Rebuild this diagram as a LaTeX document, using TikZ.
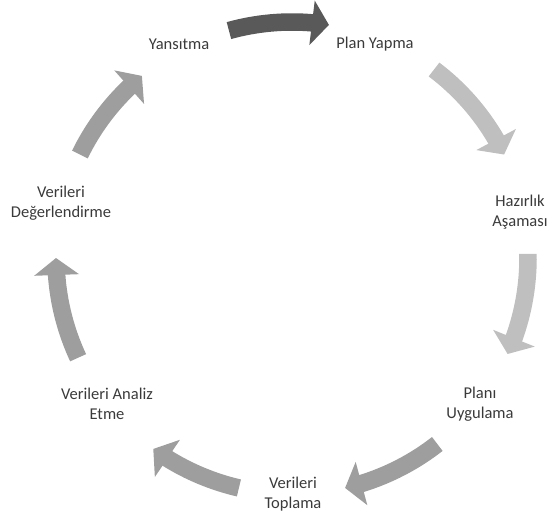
\documentclass[tikz,border=0pt]{standalone}
\usepackage{fontspec}
\setmainfont{Carlito}
\usetikzlibrary{arrows.meta,bending}

\definecolor{koyu}{RGB}{89,89,89}
\definecolor{acik}{RGB}{191,191,191}
\definecolor{orta}{RGB}{158,158,158}
\definecolor{yazi}{RGB}{58,58,58}

\begin{document}
\begin{tikzpicture}[x=1pt, y=1pt,
	etiket/.style={align=center, text=yazi, inner sep=0pt, font=\fontsize{16.5}{19.5}\selectfont},
	ok/.style={line width=17.5pt, -{Triangle[width=44pt,length=17pt,flex]}}]
	\clip (0,0) rectangle (552,517);
	\coordinate (m) at (292,259);

	\node[etiket] (yansitma) at (179,473) {Yansıtma};
	\node[etiket] (plan) at (375,473) {Plan Yapma};
	\node[etiket] (hazirlik) at (520,305) {Hazırlık\\Aşaması};
	\node[etiket] (uygulama) at (480,113) {Planı\\Uygulama};
	\node[etiket] (toplama) at (293,23) {Verileri\\Toplama};
	\node[etiket] (analiz) at (107,113) {Verileri Analiz\\Etme};
	\node[etiket] (degerlendirme) at (61,314) {Verileri\\Değerlendirme};

	% ring of arrows, clockwise
	\draw[ok, color=koyu] ([shift={(105.5:236pt)}]m) arc[start angle=105.5, end angle=81, radius=236pt];
	\draw[ok, color=acik] ([shift={(53:236pt)}]m) arc[start angle=53, end angle=26, radius=236pt];
	\draw[ok, color=acik] ([shift={(1:236pt)}]m) arc[start angle=1, end angle=-24, radius=236pt];
	\draw[ok, color=orta] ([shift={(-52:236pt)}]m) arc[start angle=-52, end angle=-77, radius=236pt];
	\draw[ok, color=orta] ([shift={(-103:236pt)}]m) arc[start angle=-103, end angle=-126, radius=236pt];
	\draw[ok, color=orta] ([shift={(-155:236pt)}]m) arc[start angle=-155, end angle=-180, radius=236pt];
	\draw[ok, color=orta] ([shift={(154:236pt)}]m) arc[start angle=154, end angle=129.5, radius=236pt];
\end{tikzpicture}
\end{document}
